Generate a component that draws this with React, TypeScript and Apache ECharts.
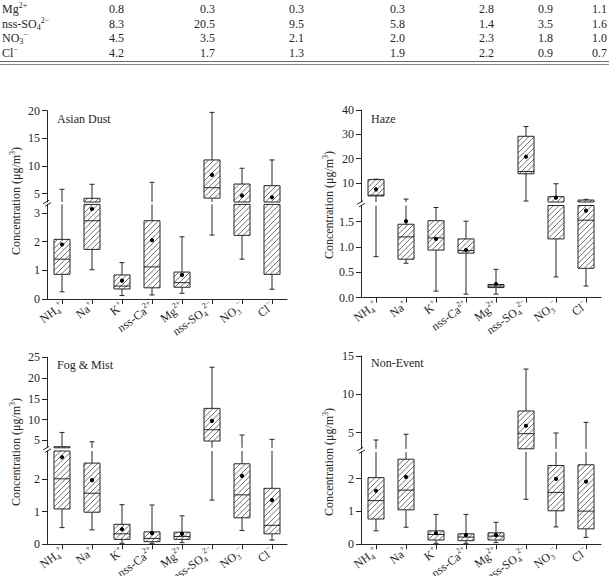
import React, { useEffect, useRef } from 'react';
import * as echarts from 'echarts';

const SERIF = '"Liberation Serif", "Times New Roman", Times, serif';
const INK = '#262626';
const HATCH = '#4a4a4a';

// ---- ions on the category axis ----
const ions = ['NH4+', 'Na+', 'K+', 'nss-Ca2+', 'Mg2+', 'nss-SO42-', 'NO3-', 'Cl-'];
const ionLabels = [
  '{n|NH}{sub|4}{sup|+}',
  '{n|Na}{sup|+}',
  '{n|K}{sup|+}',
  '{n|nss-Ca}{sup|2+}',
  '{n|Mg}{sup|2+}',
  '{n|nss-SO}{sub|4}{sup|2−}',
  '{n|NO}{sub|3}{sup|−}',
  '{n|Cl}{sup|−}',
];

// ---- table rows above the panels ----
const tableRowLabels = ['Mg{sup|2+}', 'nss-SO{sub|4}{sup|2−}', 'NO{sub|3}{sup|−}', 'Cl{sup|−}'];
const mgRow = [0.8, 0.3, 0.3, 0.3, 2.8, 0.9, 1.1];
const so4Row = [8.3, 20.5, 9.5, 5.8, 1.4, 3.5, 1.6];
const no3Row = [4.5, 3.5, 2.1, 2.0, 2.3, 1.8, 1.0];
const clRow = [4.2, 1.7, 1.3, 1.9, 2.2, 0.9, 0.7];
const tableRows = [mgRow, so4Row, no3Row, clRow];

// ---- Asian Dust ----
const dustMin = [0.25, 1.02, 0.12, 0.14, 0.2, 2.23, 1.39, 0.34];
const dustQ1 = [0.86, 1.73, 0.35, 0.39, 0.41, 4.2, 2.22, 0.86];
const dustMed = [1.39, 2.73, 0.45, 1.12, 0.57, 6.08, 3.4, 3.4];
const dustQ3 = [2.08, 4.17, 0.84, 2.73, 0.94, 11.1, 6.75, 6.45];
const dustMax = [5.8, 6.7, 1.27, 7.06, 2.17, 19.7, 9.6, 11.1];
const dustMean = [1.9, 3.14, 0.64, 2.05, 0.84, 8.4, 4.64, 4.35];

// ---- Haze ----
const hazeMin = [0.81, 0.68, 0.13, 0.07, 0.07, 2.6, 0.41, 0.23];
const hazeQ1 = [4.7, 0.76, 0.94, 0.88, 0.2, 13.8, 1.16, 0.58];
const hazeMed = [5.0, 1.2, 1.18, 0.93, 0.23, 14.7, 2.0, 1.53];
const hazeQ3 = [11.4, 1.45, 1.52, 1.16, 0.26, 29.2, 4.4, 3.0];
const hazeMax = [11.6, 3.4, 1.78, 1.51, 0.56, 33.2, 9.7, 3.3];
const hazeMean = [7.4, 1.51, 1.16, 0.94, 0.27, 20.8, 4.0, 1.72];

// ---- Fog & Mist ----
const fogMin = [0.51, 0.44, 0.03, 0.03, 0.05, 1.35, 0.42, 0.13];
const fogQ1 = [1.08, 0.98, 0.15, 0.08, 0.15, 4.83, 0.81, 0.32];
const fogMed = [2.0, 1.56, 0.32, 0.18, 0.24, 7.55, 1.51, 0.58];
const fogQ3 = [3.46, 2.48, 0.61, 0.38, 0.37, 12.7, 2.46, 1.71];
const fogMax = [6.9, 4.66, 1.21, 1.2, 0.87, 22.6, 6.28, 5.24];
const fogMean = [2.66, 1.96, 0.46, 0.34, 0.32, 9.7, 2.09, 1.35];

// ---- Non-Event ----
const nonMin = [0.41, 0.52, 0.03, 0.03, 0.05, 1.37, 0.53, 0.21];
const nonQ1 = [0.77, 1.05, 0.13, 0.11, 0.13, 2.85, 1.02, 0.47];
const nonMed = [1.33, 1.65, 0.3, 0.22, 0.25, 4.87, 1.58, 1.01];
const nonQ3 = [2.03, 2.59, 0.41, 0.32, 0.35, 7.83, 2.4, 2.42];
const nonMax = [4.05, 4.8, 0.91, 0.91, 0.67, 13.3, 4.96, 6.35];
const nonMean = [1.63, 2.05, 0.34, 0.28, 0.28, 5.9, 1.99, 1.91];

// ---- tick values of the broken axes ----
const dustUpperTicks = [5, 10, 15, 20];
const dustLowerTicks = [0, 1, 2, 3];
const hazeUpperTicks = [10, 20, 30, 40];
const hazeLowerTicks = [0, 0.5, 1.0, 1.5];
const fogUpperTicks = [5, 10, 15, 20, 25];
const fogLowerTicks = [0, 1, 2];
const nonUpperTicks = [5, 10, 15];
const nonLowerTicks = [0, 1, 2];

// layout of each panel: an upper and a lower grid make the broken axis
const panels = [
  {
    title: 'Asian Dust', stats: [dustMin, dustQ1, dustMed, dustQ3, dustMax, dustMean], decimals: 0,
    left: 47, titleX: 57, titleY: 119, nameX: 16, nameY: 201,
    upper: { top: 110.7, bottom: 202, min: 3.5, max: 20, ticks: dustUpperTicks },
    lower: { top: 204.4, bottom: 299, min: 0, max: 3.3, ticks: dustLowerTicks },
  },
  {
    title: 'Haze', stats: [hazeMin, hazeQ1, hazeMed, hazeQ3, hazeMax, hazeMean], decimals: 1,
    left: 361, titleX: 371, titleY: 119, nameX: 329, nameY: 205,
    upper: { top: 110, bottom: 202, min: 2.2, max: 40, ticks: hazeUpperTicks },
    lower: { top: 205.5, bottom: 297.7, min: 0, max: 1.82, ticks: hazeLowerTicks },
  },
  {
    title: 'Fog & Mist', stats: [fogMin, fogQ1, fogMed, fogQ3, fogMax, fogMean], decimals: 0,
    left: 47, titleX: 57, titleY: 365, nameX: 16, nameY: 452,
    upper: { top: 357.3, bottom: 447.8, min: 3.2, max: 25, ticks: fogUpperTicks },
    lower: { top: 451, bottom: 544.3, min: 0, max: 2.85, ticks: fogLowerTicks },
  },
  {
    title: 'Non-Event', stats: [nonMin, nonQ1, nonMed, nonQ3, nonMax, nonMean], decimals: 0,
    left: 361, titleX: 371, titleY: 363, nameX: 329, nameY: 462,
    upper: { top: 356, bottom: 448.8, min: 2.9, max: 15, ticks: nonUpperTicks },
    lower: { top: 452, bottom: 544.3, min: 0, max: 2.81, ticks: nonLowerTicks },
  },
];

const PLOT_W = 240;
const BOX_HALF = 8;
const CAP_HALF = 2.5;
const HATCH_STEP = 5.5;

const tableRowY = [9, 23.7, 38.4, 53];
const tableColRight = [124, 215, 304, 405, 494, 553, 607];

const richAxis = {
  n: { fontSize: 12, fontFamily: SERIF, color: INK, lineHeight: 16 },
  sub: { fontSize: 8, fontFamily: SERIF, color: INK, lineHeight: 8, verticalAlign: 'bottom' },
  sup: { fontSize: 8, fontFamily: SERIF, color: INK, lineHeight: 8, verticalAlign: 'top' },
};
const richGraphic = {
  sub: { fontSize: 8, fontFamily: SERIF, fill: INK, lineHeight: 8, verticalAlign: 'bottom' },
  sup: { fontSize: 8, fontFamily: SERIF, fill: INK, lineHeight: 8, verticalAlign: 'top' },
};

// Box, hatching, whiskers, median and mean of one ion, cut to the grid it belongs to.
function renderBox(params: any, api: any) {
  const cs = params.coordSys;
  const top = cs.y;
  const bottom = cs.y + cs.height;
  const idx = api.value(0);
  const lo = api.value(1), q1 = api.value(2), med = api.value(3), q3 = api.value(4), hi = api.value(5), mean = api.value(6);
  const xc = api.coord([idx, 0])[0];
  const py = (v: number) => api.coord([idx, v])[1];
  const clamp = (y: number) => Math.min(bottom, Math.max(top, y));
  const inside = (y: number) => y >= top - 0.01 && y <= bottom + 0.01;
  const stroke = { stroke: INK, lineWidth: 1, fill: null };
  const children: any[] = [];

  const yHi = py(hi), yQ3 = py(q3), yQ1 = py(q1), yLo = py(lo);
  const vseg = (ya: number, yb: number) => {
    const a = clamp(ya), b = clamp(yb);
    if (b - a > 0.1) children.push({ type: 'line', shape: { x1: xc, y1: a, x2: xc, y2: b }, style: stroke });
  };
  vseg(yHi, yQ3);
  vseg(yQ1, yLo);
  [yHi, yLo].forEach((yc) => {
    if (inside(yc)) children.push({ type: 'line', shape: { x1: xc - CAP_HALF, y1: yc, x2: xc + CAP_HALF, y2: yc }, style: stroke });
  });

  const bt = clamp(yQ3), bb = clamp(yQ1);
  const x0 = xc - BOX_HALF, x1 = xc + BOX_HALF;
  if (bb - bt > 0.1) {
    children.push({ type: 'rect', shape: { x: x0, y: bt, width: x1 - x0, height: bb - bt }, style: { fill: '#fff', stroke: null } });
    // diagonal hatching: lines x + y = c
    const cStart = Math.ceil((x0 + bt) / HATCH_STEP) * HATCH_STEP;
    for (let c = cStart; c <= x1 + bb; c += HATCH_STEP) {
      const xa = Math.max(x0, c - bb);
      const xb = Math.min(x1, c - bt);
      if (xb - xa > 0.3) {
        children.push({ type: 'line', shape: { x1: xa, y1: c - xa, x2: xb, y2: c - xb }, style: { stroke: HATCH, lineWidth: 0.8 } });
      }
    }
    children.push({ type: 'rect', shape: { x: x0, y: bt, width: x1 - x0, height: bb - bt }, style: stroke });
  }
  const yMed = py(med);
  if (inside(yMed) && yMed >= bt && yMed <= bb) {
    children.push({ type: 'line', shape: { x1: x0, y1: yMed, x2: x1, y2: yMed }, style: stroke });
  }
  const yMean = py(mean);
  if (inside(yMean)) {
    children.push({ type: 'circle', shape: { cx: xc, cy: yMean, r: 2.1 }, style: { fill: '#000', stroke: null } });
  }
  return { type: 'group', children };
}

function buildOption() {
  const grid: any[] = [];
  const xAxis: any[] = [];
  const yAxis: any[] = [];
  const series: any[] = [];
  const elements: any[] = [];

  panels.forEach((p) => {
    const rows = ions.map((_, i) => [i, ...p.stats.map((arr) => arr[i])]);
    (['upper', 'lower'] as const).forEach((part) => {
      const seg = p[part];
      const gi = grid.length;
      const isLower = part === 'lower';
      grid.push({ left: p.left, top: seg.top, width: PLOT_W, height: seg.bottom - seg.top, containLabel: false, outerBoundsMode: 'none' });
      xAxis.push({
        gridIndex: gi,
        type: 'category',
        data: ions,
        boundaryGap: true,
        show: isLower,
        axisLine: { show: isLower, onZero: false, lineStyle: { color: INK, width: 1 } },
        axisTick: { show: isLower, alignWithLabel: true, length: 5, lineStyle: { color: INK, width: 1 } },
        axisLabel: {
          show: isLower,
          interval: 0,
          rotate: 36,
          margin: 6,
          fontSize: 12,
          fontFamily: SERIF,
          color: INK,
          formatter: (_v: string, i: number) => ionLabels[i],
          rich: richAxis,
        },
        splitLine: { show: false },
      });
      yAxis.push({
        gridIndex: gi,
        type: 'value',
        min: seg.min,
        max: seg.max,
        axisLine: { show: true, lineStyle: { color: INK, width: 1 } },
        axisTick: { show: true, length: 5, inside: false, customValues: seg.ticks, lineStyle: { color: INK, width: 1 } },
        axisLabel: {
          customValues: seg.ticks,
          margin: 7,
          fontSize: 12,
          fontFamily: SERIF,
          color: INK,
          formatter: (v: number) => (isLower && p.decimals ? v.toFixed(p.decimals) : String(v)),
        },
        splitLine: { show: false },
      });
      series.push({
        type: 'custom',
        xAxisIndex: gi,
        yAxisIndex: gi,
        renderItem: renderBox,
        data: rows,
        encode: { x: 0, y: 1 },
        silent: true,
        clip: false,
      });
    });

    // panel title
    elements.push({
      type: 'text', x: p.titleX, y: p.titleY, silent: true,
      style: { text: p.title, fontSize: 12, fontFamily: SERIF, fill: INK, align: 'left', verticalAlign: 'middle' },
    });
    // axis name, rotated
    elements.push({
      type: 'text', x: p.nameX, y: p.nameY, rotation: Math.PI / 2, silent: true,
      style: {
        text: 'Concentration (μg/m{sup|3})', fontSize: 12, fontFamily: SERIF, fill: INK, lineHeight: 15,
        align: 'center', verticalAlign: 'middle', rich: richGraphic,
      },
    });
    // break marks on the value axis
    const ym = (p.upper.bottom + p.lower.top) / 2;
    const ax = p.left;
    elements.push({ type: 'line', silent: true, shape: { x1: ax - 4, y1: ym + 0.5, x2: ax + 2, y2: ym - 3 }, style: { stroke: INK, lineWidth: 1 } });
    elements.push({ type: 'line', silent: true, shape: { x1: ax - 2, y1: ym + 3, x2: ax + 4, y2: ym - 0.5 }, style: { stroke: INK, lineWidth: 1 } });
  });

  // table
  tableRowLabels.forEach((lab, r) => {
    elements.push({
      type: 'text', x: 2, y: tableRowY[r], silent: true,
      style: { text: lab, fontSize: 12, fontFamily: SERIF, fill: INK, lineHeight: 15, align: 'left', verticalAlign: 'middle', rich: richGraphic },
    });
    tableRows[r].forEach((v, c) => {
      elements.push({
        type: 'text', x: tableColRight[c], y: tableRowY[r], silent: true,
        style: { text: v.toFixed(1), fontSize: 12, fontFamily: SERIF, fill: INK, align: 'right', verticalAlign: 'middle' },
      });
    });
  });
  elements.push({ type: 'line', silent: true, shape: { x1: 0, y1: 61.5, x2: 609, y2: 61.5 }, style: { stroke: '#6a6a6a', lineWidth: 1.2 } });
  elements.push({ type: 'line', silent: true, shape: { x1: 0, y1: 64.5, x2: 609, y2: 64.5 }, style: { stroke: '#8a8a8a', lineWidth: 1 } });

  return {
    animation: false,
    backgroundColor: '#ffffff',
    grid,
    xAxis,
    yAxis,
    series,
    graphic: { elements },
  };
}

export default function App() {
  const ref = useRef<HTMLDivElement>(null);
  useEffect(() => {
    if (!ref.current) return;
    const chart = echarts.init(ref.current, null, { renderer: 'svg' });
    chart.setOption(buildOption() as any);
    return () => chart.dispose();
  }, []);
  return (
    <div
      ref={ref}
      style={{ position: 'absolute', left: 0, top: 0, width: 609, height: 576, background: '#fff' }}
    />
  );
}
